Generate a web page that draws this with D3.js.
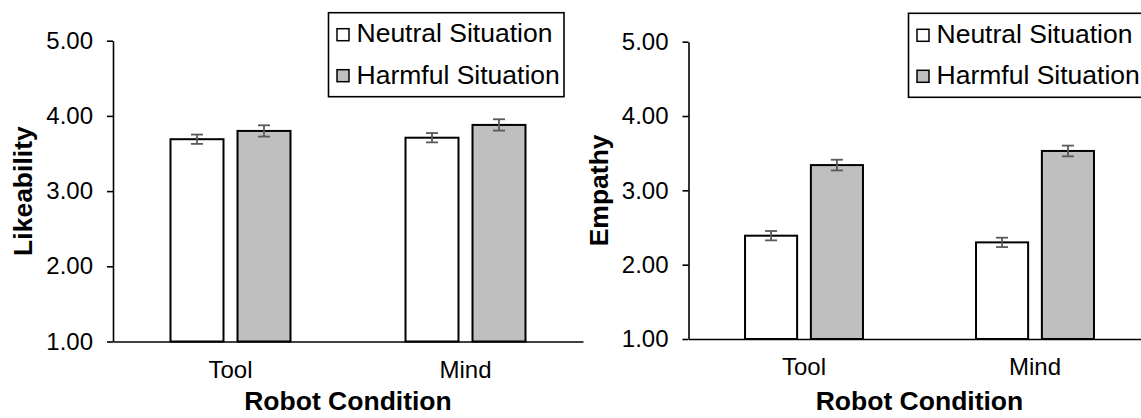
<!DOCTYPE html>
<html>
<head>
<meta charset="utf-8">
<script src="https://cdn.jsdelivr.net/npm/d3@7"></script>
<style>
  body { margin: 0; background: #fff; }
  svg { display: block; font-family: "Liberation Sans", Arial, sans-serif; }
</style>
</head>
<body>
<svg id="chart" width="1141" height="418"></svg>
<script>
// categories and series
const categories = ["Tool", "Mind"]
const series = ["Neutral Situation", "Harmful Situation"]
const yTicks = [1, 2, 3, 4, 5]

// Likeability means and error bars
const likeNeutral = [3.69, 3.71]
const likeHarmful = [3.80, 3.88]
const likeNeutralErr = [0.062, 0.062]
const likeHarmfulErr = [0.075, 0.075]

// Empathy means and error bars
const empNeutral = [2.39, 2.30]
const empHarmful = [3.34, 3.53]
const empNeutralErr = [0.063, 0.063]
const empHarmfulErr = [0.072, 0.072]

const fills = ["#ffffff", "#bfbfbf"]

const svg = d3.select("#chart")

// one panel = one bar chart with its own axes and legend
const drawPanel = (opt) => {
    const g = svg.append("g")

    const x = d3.scaleBand().domain(categories).range([opt.left, opt.right])
    const y = d3.scaleLinear().domain([1, 5]).range([opt.bottom, opt.top])
    const inner = d3.scaleBand().domain(series)
        .range([0, x.bandwidth() * 0.5106])
        .paddingInner(0.209)
    const innerOffset = (x.bandwidth() - x.bandwidth() * 0.5106) / 2

    // rows: one per bar
    const rows = []
    categories.forEach((c, i) => {
        rows.push({ cat: c, s: series[0], v: opt.neutral[i], e: opt.neutralErr[i], fill: fills[0] })
        rows.push({ cat: c, s: series[1], v: opt.harmful[i], e: opt.harmfulErr[i], fill: fills[1] })
    })

    // bars
    g.selectAll("rect.bar").data(rows).join("rect")
        .attr("class", "bar")
        .attr("x", d => x(d.cat) + innerOffset + inner(d.s))
        .attr("y", d => y(d.v))
        .attr("width", inner.bandwidth())
        .attr("height", d => y(1) - y(d.v))
        .attr("fill", d => d.fill)
        .attr("stroke", "#000")
        .attr("stroke-width", 2)

    // error bars
    const cx = d => x(d.cat) + innerOffset + inner(d.s) + inner.bandwidth() / 2
    const eb = g.selectAll("g.err").data(rows).join("g").attr("class", "err")
        .attr("stroke", "#595959").attr("stroke-width", 1.8)
    eb.append("line")
        .attr("x1", cx).attr("x2", cx)
        .attr("y1", d => y(d.v + d.e)).attr("y2", d => y(d.v - d.e))
    eb.append("line")
        .attr("x1", d => cx(d) - 6).attr("x2", d => cx(d) + 6)
        .attr("y1", d => y(d.v + d.e)).attr("y2", d => y(d.v + d.e))
    eb.append("line")
        .attr("x1", d => cx(d) - 6).attr("x2", d => cx(d) + 6)
        .attr("y1", d => y(d.v - d.e)).attr("y2", d => y(d.v - d.e))

    // y axis
    const yAxis = g.append("g")
        .attr("transform", `translate(${opt.left},0)`)
        .call(d3.axisLeft(y).tickValues(yTicks).tickFormat(d3.format(".2f"))
            .tickSize(6).tickSizeOuter(0).tickPadding(14))
    yAxis.selectAll("text").attr("font-size", 24).attr("fill", "#000").attr("font-family", null)
    yAxis.selectAll("line, path").attr("stroke", "#000").attr("stroke-width", 1.6)

    // x axis
    const xAxis = g.append("g")
        .attr("transform", `translate(0,${y(1)})`)
        .call(d3.axisBottom(x).tickSize(0).tickPadding(19))
    xAxis.selectAll("text").attr("font-size", 24).attr("fill", "#000").attr("font-family", null)
    xAxis.select(".domain").attr("stroke", "#000").attr("stroke-width", 1.6)

    // axis titles
    g.append("text")
        .attr("x", (opt.left + opt.right) / 2)
        .attr("y", 410)
        .attr("text-anchor", "middle")
        .attr("font-size", 26.5).attr("font-weight", "bold")
        .text("Robot Condition")

    g.append("text")
        .attr("transform", `translate(${opt.left - 81},${(opt.top + opt.bottom) / 2}) rotate(-90)`)
        .attr("text-anchor", "middle")
        .attr("font-size", 26.5).attr("font-weight", "bold")
        .text(opt.title)

    // legend
    const lg = g.append("g").attr("transform", `translate(${opt.legendX},${opt.legendY})`)
    lg.append("rect")
        .attr("width", 235.5).attr("height", 84)
        .attr("fill", "#fff").attr("stroke", "#000").attr("stroke-width", 1.6)
    series.forEach((s, i) => {
        lg.append("rect")
            .attr("x", 8.5).attr("y", 16 + i * 41)
            .attr("width", 12).attr("height", 12)
            .attr("fill", fills[i]).attr("stroke", "#000").attr("stroke-width", 1.5)
        lg.append("text")
            .attr("x", 28).attr("y", 29.5 + i * 41.5)
            .attr("font-size", 26.5)
            .text(s)
    })
}

drawPanel({
    left: 113, right: 583, top: 40.7, bottom: 341.5,
    title: "Likeability",
    neutral: likeNeutral, harmful: likeHarmful,
    neutralErr: likeNeutralErr, harmfulErr: likeHarmfulErr,
    legendX: 328.5, legendY: 12.7
})

drawPanel({
    left: 688.5, right: 1150.5, top: 41.7, bottom: 339,
    title: "Empathy",
    neutral: empNeutral, harmful: empHarmful,
    neutralErr: empNeutralErr, harmfulErr: empHarmfulErr,
    legendX: 908.5, legendY: 13.3
})
</script>
</body>
</html>
